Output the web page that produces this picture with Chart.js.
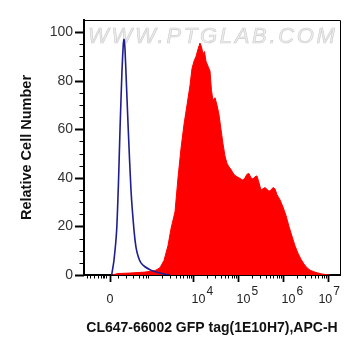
<!DOCTYPE html>
<html>
<head>
<meta charset="utf-8">
<script src="https://cdn.jsdelivr.net/npm/chart.js@4/dist/chart.umd.min.js"></script>
<style>
  html, body { margin: 0; padding: 0; background: #fff; }
  #wrap { width: 361px; height: 356px; }
</style>
</head>
<body>
<div id="wrap"><canvas id="c" width="361" height="356"></canvas></div>
<script>
// ---- Data (x in display decades of the biexponential axis, y = relative cell number) ----
const blueX = [2.182, 2.233, 2.293, 2.333, 2.367, 2.411, 2.440, 2.456, 2.478, 2.511, 2.551, 2.611, 2.678, 2.722, 2.773, 2.833, 2.922, 3.033, 3.144, 3.256, 3.367, 3.478];
const blueY = [0, 6, 18.5, 38, 59.7, 84, 95, 97, 93, 78, 59.7, 35, 18.5, 11.5, 7.5, 5, 3.4, 2.2, 1.4, 0.8, 0.3, 0];

const redX = [2.189, 2.322, 2.589, 2.922, 3.144, 3.256, 3.344, 3.433, 3.500, 3.589, 3.656, 3.722, 3.789, 3.856, 3.922, 3.967, 4.011, 4.056, 4.100, 4.144, 4.178, 4.211, 4.244, 4.278, 4.322, 4.367, 4.400, 4.433, 4.478, 4.522, 4.567, 4.611, 4.656, 4.700, 4.744, 4.789, 4.833, 4.878, 4.922, 4.967, 5.011, 5.056, 5.100, 5.144, 5.189, 5.233, 5.278, 5.322, 5.367, 5.411, 5.456, 5.500, 5.544, 5.589, 5.633, 5.678, 5.722, 5.767, 5.811, 5.856, 5.922, 5.989, 6.056, 6.122, 6.189, 6.256, 6.322, 6.389, 6.456, 6.522, 6.589, 6.678, 6.767, 6.856, 6.967, 7.033];
const redY = [0, 0.6, 0.8, 1.2, 1.8, 3, 6, 12, 19, 26, 40, 52, 62, 70, 78, 85, 88, 90, 93, 95.5, 94, 91, 92, 88, 86, 84, 76, 72, 73, 70, 66, 60, 54, 49, 46, 44.5, 43.5, 42, 41, 40.5, 40, 39.5, 39, 40, 41.5, 41.8, 40, 39.5, 40.5, 40.8, 38, 35, 35.5, 36, 35.3, 34.5, 35, 36, 35.5, 33, 31, 28, 24.5, 20, 16, 12, 9, 6.5, 4.5, 3, 2, 1.3, 0.8, 0.4, 0.1, 0];

// ---- Axis ticks ----
const xMajorTicks = [2.144, 4, 5, 6, 7];
const xTickLabels = [['0', ''], ['10', '4'], ['10', '5'], ['10', '6'], ['10', '7']];
const xNearZeroMinor = [1.633, 1.700, 1.789, 1.878, 1.944, 1.989, 2.022, 2.056, 2.322, 2.500, 2.656, 2.789, 2.878, 2.944, 3.0];
const yMajorStep = 20;
const yMinorStep = 5;
const yMax = 105;
const xMin = 1.567, xMax = 7.256;

const xMinorTicks = xNearZeroMinor.slice();
for (let d = 3; d <= 6; d++) {
  for (let m = 2; m <= 9; m++) {
    const v = d + Math.log10(m);
    if (v < xMax) xMinorTicks.push(v);
  }
}

const FONT = "'Liberation Sans', Arial, sans-serif";

const decorPlugin = {
  id: 'decor',
  beforeDatasetsDraw(chart) {
    const { ctx, chartArea } = chart;
    ctx.save();
    ctx.font = 'italic 22px ' + FONT;
    ctx.letterSpacing = '2.7px';
    ctx.textBaseline = 'alphabetic';
    ctx.fillStyle = 'rgba(236,236,236,0.95)';
    ctx.strokeStyle = 'rgba(200,200,200,0.9)';
    ctx.lineWidth = 0.6;
    ctx.fillText('WWW.PTGLAB.COM', chartArea.left + 4, 43);
    ctx.strokeText('WWW.PTGLAB.COM', chartArea.left + 4, 43);
    ctx.restore();
  },
  afterDraw(chart) {
    const { ctx, chartArea } = chart;
    const xs = chart.scales.x, ys = chart.scales.y;
    ctx.save();
    // top & right frame
    ctx.strokeStyle = '#000';
    ctx.lineWidth = 1;
    ctx.beginPath();
    ctx.moveTo(chartArea.left, chartArea.top + 0.5);
    ctx.lineTo(chartArea.right + 0.5, chartArea.top + 0.5);
    ctx.lineTo(chartArea.right + 0.5, chartArea.bottom);
    ctx.stroke();
    // y tick marks
    ys.ticks.forEach(t => {
      if (t.value > 100) return;
      const y = Math.round(ys.getPixelForValue(t.value)) + 0.5;
      const major = t.value % yMajorStep === 0;
      const len = major ? 9 : 4.5;
      ctx.lineWidth = major ? 2 : 1;
      ctx.beginPath();
      ctx.moveTo(chartArea.left - len, y);
      ctx.lineTo(chartArea.left, y);
      ctx.stroke();
    });
    // x tick marks
    xs.ticks.forEach(t => {
      const x = Math.round(xs.getPixelForValue(t.value)) + 0.5;
      const major = xMajorTicks.includes(t.value);
      const len = major ? 7 : 3.5;
      ctx.lineWidth = major ? 1.8 : 1;
      ctx.beginPath();
      ctx.moveTo(x, chartArea.bottom);
      ctx.lineTo(x, chartArea.bottom + len);
      ctx.stroke();
    });
    // x tick labels with superscript exponents
    ctx.fillStyle = '#222';
    ctx.textBaseline = 'alphabetic';
    xMajorTicks.forEach((v, i) => {
      const [base, exp] = xTickLabels[i];
      const px = xs.getPixelForValue(v);
      ctx.font = '12.5px ' + FONT;
      const wb = ctx.measureText(base).width;
      ctx.font = '12px ' + FONT;
      const we = exp ? ctx.measureText(exp).width + 1 : 0;
      let left;
      if (!exp) left = px - wb / 2;
      else left = Math.min(px - 2, chartArea.right - wb - we);
      ctx.font = '12.5px ' + FONT;
      ctx.fillText(base, left, 303);
      if (exp) {
        ctx.font = '12px ' + FONT;
        ctx.fillText(exp, left + wb + 1, 295);
      }
    });
    ctx.restore();
  }
};

new Chart(document.getElementById('c'), {
  type: 'line',
  data: {
    datasets: [
      {
        label: 'Control',
        data: blueX.map((x, i) => ({ x, y: blueY[i] })),
        borderColor: '#1e1e8c',
        borderWidth: 1.6,
        pointRadius: 0,
        fill: false,
        tension: 0.2
      },
      {
        label: 'CL647-66002',
        data: redX.map((x, i) => ({ x, y: redY[i] })),
        borderColor: '#ff0000',
        backgroundColor: '#ff0000',
        borderWidth: 1,
        pointRadius: 0,
        fill: 'origin',
        tension: 0
      }
    ]
  },
  options: {
    responsive: false,
    animation: false,
    devicePixelRatio: 1,
    layout: { padding: { left: 0, top: 20, right: 21, bottom: 0 } },
    plugins: { legend: { display: false }, tooltip: { enabled: false } },
    scales: {
      x: {
        type: 'linear',
        min: xMin,
        max: xMax,
        afterBuildTicks(scale) {
          scale.ticks = xMajorTicks.concat(xMinorTicks).sort((a, b) => a - b).map(v => ({ value: v }));
        },
        afterFit(scale) { scale.height = 81; },
        ticks: { autoSkip: false, maxRotation: 0, callback: () => '' },
        grid: { display: false, drawTicks: true, tickLength: 7 },
        border: { display: true, color: '#000', width: 2 },
        title: {
          display: true,
          text: 'CL647-66002 GFP tag(1E10H7),APC-H',
          color: '#111',
          font: { family: FONT, size: 14, weight: 'bold' },
          padding: { top: 0, bottom: 19.6 }
        }
      },
      y: {
        min: 0,
        max: yMax,
        afterFit(scale) { scale.width = 84; },
        ticks: {
          stepSize: yMinorStep,
          autoSkip: false,
          padding: 3,
          color: '#333',
          font: { family: FONT, size: 14 },
          callback: v => (v % yMajorStep === 0 && v <= 100 ? String(v) : '')
        },
        grid: { display: false, drawTicks: true, tickLength: 8 },
        border: { display: true, color: '#000', width: 2 },
        title: {
          display: true,
          text: 'Relative Cell Number',
          color: '#111',
          font: { family: FONT, size: 14.5, weight: 'bold' },
          padding: { top: 18.3, bottom: 0 }
        }
      }
    }
  },
  plugins: [decorPlugin]
});
</script>
</body>
</html>
